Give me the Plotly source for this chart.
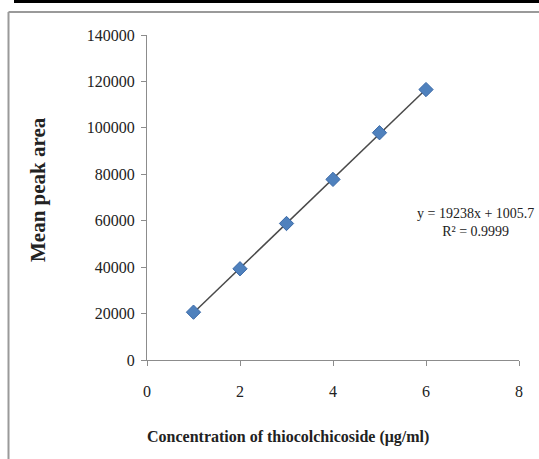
import numpy as np
import plotly.graph_objects as go

# Data
concentration = [1, 2, 3, 4, 5, 6]
mean_peak_area = [20600, 39300, 58800, 77800, 97900, 116500]
x_ticks = [0, 2, 4, 6, 8]
y_ticks = [0, 20000, 40000, 60000, 80000, 100000, 120000, 140000]
y_tick_labels = [str(v) for v in y_ticks]
equation_text = "y = 19238x + 1005.7<br>R² = 0.9999"
x_title = "Concentration of thiocolchicoside (μg/ml)"
y_title = "Mean peak area"

W, H = 539, 459
L, R, T, B = 147, 20, 35, 99
pw, ph = W - L - R, H - T - B

def px(xp):
    return (xp - L) / pw

def py(yp):
    return (H - B - yp) / ph

slope, intercept = np.polyfit(concentration, mean_peak_area, 1)
trend_x = [concentration[0], concentration[-1]]
trend_y = [slope * v + intercept for v in trend_x]

serif = "Liberation Serif, Times New Roman, serif"

fig = go.Figure()
fig.add_trace(go.Scatter(x=trend_x, y=trend_y, mode="lines",
                         line=dict(color="#4a4a4a", width=1.5),
                         showlegend=False, hoverinfo="skip"))
fig.add_trace(go.Scatter(x=concentration, y=mean_peak_area, mode="markers",
                         marker=dict(symbol="diamond", size=11, color="#4f81bd",
                                     line=dict(color="#3b6aa8", width=1)),
                         showlegend=False))

axis_common = dict(showgrid=False, zeroline=False, showline=True,
                   linecolor="#8c8c8c", linewidth=1, ticks="outside",
                   ticklen=5, tickcolor="#8c8c8c",
                   tickfont=dict(family=serif, size=16, color="#222222"))

fig.update_xaxes(range=[0, 8], tickvals=x_ticks, ticklabelstandoff=12, **axis_common)
fig.update_yaxes(range=[0, 140000], tickvals=y_ticks, ticktext=y_tick_labels,
                 ticklabelstandoff=3, **axis_common)

fig.add_annotation(x=px(38), y=py(190), xref="paper", yref="paper",
                   xanchor="center", yanchor="middle",
                   text="<b>" + y_title + "</b>", textangle=-90, showarrow=False,
                   font=dict(family=serif, size=21, color="#222222"))
fig.add_annotation(x=px(288), y=py(437), xref="paper", yref="paper",
                   xanchor="center", yanchor="middle",
                   text="<b>" + x_title + "</b>", showarrow=False,
                   font=dict(family=serif, size=16, color="#222222"))
fig.add_annotation(x=px(536), y=py(222), xref="paper", yref="paper",
                   xanchor="right", yanchor="middle",
                   text=equation_text, showarrow=False, align="center",
                   font=dict(family=serif, size=14, color="#222222"))

shapes = [
    dict(type="line", xref="paper", yref="paper", x0=px(8.5), x1=px(8.5), y0=py(12), y1=py(460),
         line=dict(color="#9a9a9a", width=2)),
    dict(type="line", xref="paper", yref="paper", x0=px(8.5), x1=px(540), y0=py(12), y1=py(12),
         line=dict(color="#9a9a9a", width=2)),
    dict(type="line", xref="paper", yref="paper", x0=px(15), x1=px(540), y0=py(1.5), y1=py(1.5),
         line=dict(color="#000000", width=3)),
]
for xd in [15, 175, 268, 362, 457]:
    shapes.append(dict(type="line", xref="paper", yref="paper", x0=px(xd), x1=px(xd),
                       y0=py(0), y1=py(3), line=dict(color="#000000", width=2)))

fig.update_layout(width=W, height=H, margin=dict(l=L, r=R, t=T, b=B),
                  paper_bgcolor="white", plot_bgcolor="white", shapes=shapes,
                  showlegend=False)

fig.write_html("out.html", config={"displayModeBar": False},
               post_script="document.body.style.margin='0';document.body.style.overflow='hidden';")
